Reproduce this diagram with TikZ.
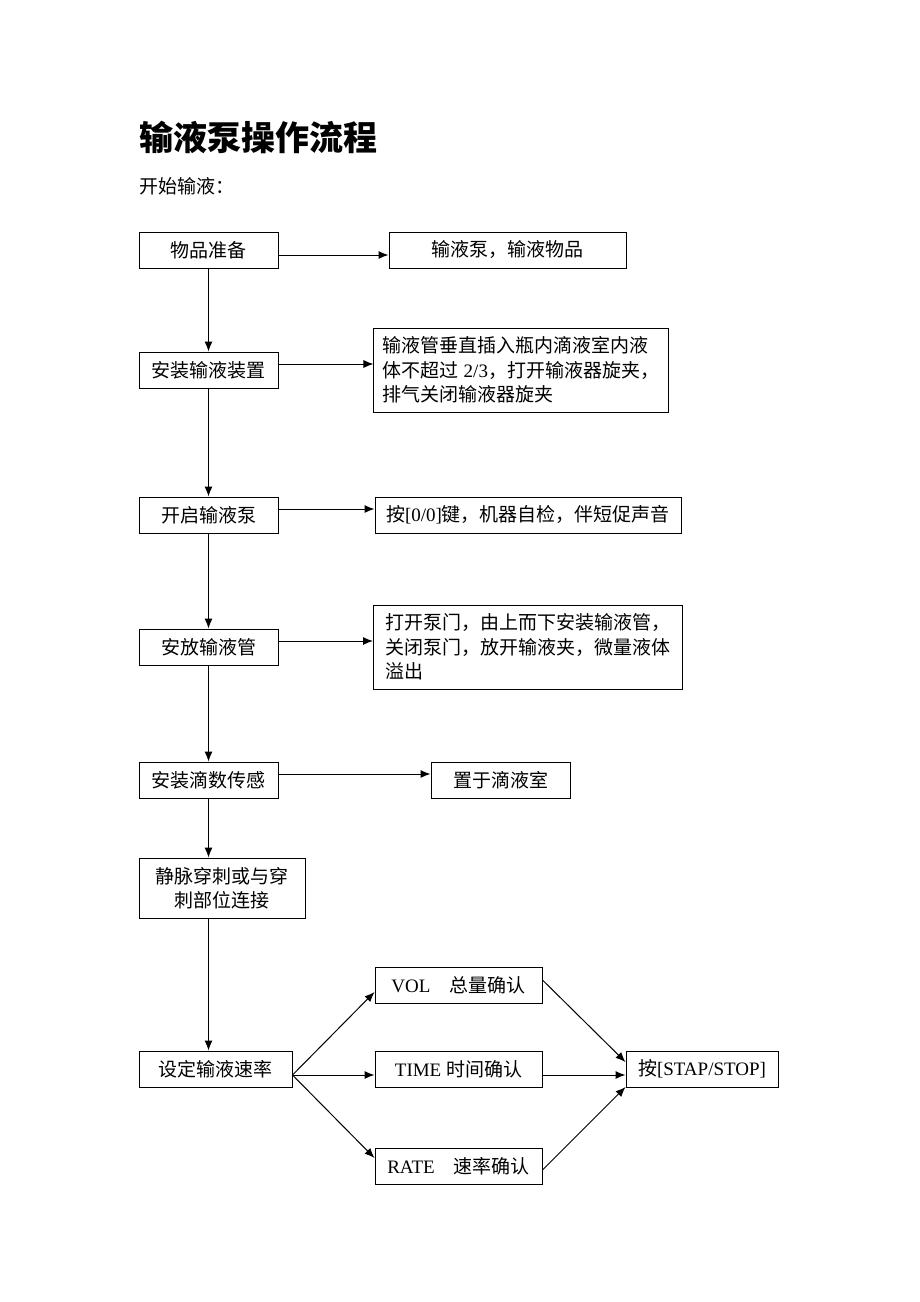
\documentclass[tikz,border=0pt]{standalone}
\usepackage{fontspec}
\setmainfont{Noto Sans CJK SC}
\newfontfamily\lat{Liberation Serif}
\usetikzlibrary{arrows.meta}

\begin{document}
\begin{tikzpicture}[x=0.5pt,y=-0.5pt,-{Latex[length=5pt,width=4pt]},line width=0.5pt,
  box/.style={draw,rectangle,minimum height=18pt,inner sep=2pt,font=\fontsize{9.5}{12.25}\selectfont},
  note/.style={box,align=left,inner xsep=6pt,inner ysep=4pt}]

  \useasboundingbox (0,0) rectangle (920,1302);

  \node[anchor=west,inner sep=0pt,font=\fontsize{17}{20}\selectfont\bfseries] (title) at (139,137) {输液泵操作流程};
  \node[anchor=west,inner sep=0pt,font=\fontsize{9.5}{12}\selectfont] (start) at (139,186) {开始输液：};

  \node[box,minimum width=69.5pt] (prep) at (208.5,250) {物品准备};
  \node[box,minimum width=118.5pt] (items) at (507.5,250) {输液泵，输液物品};
  \node[box,minimum width=69.5pt] (setup) at (208.5,370) {安装输液装置};
  \node[note,inner xsep=4.5pt,minimum width=146pt,minimum height=42pt] (setupnote) at (521,370)
    {输液管垂直插入瓶内滴液室内液\\体不超过{\lat\ 2/3}，打开输液器旋夹，\\排气关闭输液器旋夹};
  \node[box,minimum width=69.5pt] (pump) at (208.5,515) {开启输液泵};
  \node[box,minimum width=153pt] (pumpnote) at (528,515) {按{\lat [0/0]}键，机器自检，伴短促声音};
  \node[box,minimum width=69.5pt] (tube) at (208.5,647) {安放输液管};
  \node[note,minimum width=153pt,minimum height=42pt] (tubenote) at (528,647)
    {打开泵门，由上而下安装输液管，\\关闭泵门，放开输液夹，微量液体\\溢出};
  \node[box,minimum width=69.5pt] (sensor) at (208.5,780) {安装滴数传感};
  \node[box,minimum width=69.5pt] (drip) at (500.5,780) {置于滴液室};
  \node[box,align=center,minimum width=83pt,minimum height=30pt] (puncture) at (222,888) {静脉穿刺或与穿\\刺部位连接};
  \node[box,minimum width=76.5pt] (speed) at (215.5,1069) {设定输液速率};
  \node[box,minimum width=83.5pt] (vol) at (458.5,985) {{\lat VOL}\hspace{1em}总量确认};
  \node[box,minimum width=83.5pt] (time) at (458.5,1069) {{\lat TIME\ }时间确认};
  \node[box,minimum width=83.5pt] (ratebox) at (458.5,1166) {{\lat RATE}\hspace{1em}速率确认};
  \node[box,minimum width=76pt] (stop) at (702,1069) {按{\lat [STAP/STOP]}};

  % main line
  \draw (prep) -- (setup);
  \draw (setup) -- (pump);
  \draw (pump) -- (tube);
  \draw (tube) -- (sensor);
  \draw (sensor) -- (puncture.north -| sensor);
  \draw (puncture.south -| sensor) -- (speed.north -| sensor);

  % side notes
  \draw ([yshift=-2.5pt]prep.east) -- ([yshift=-2.5pt]items.west);
  \draw ([yshift=3pt]setup.east) -- ([yshift=3pt]setupnote.west);
  \draw ([yshift=3pt]pump.east) -- ([yshift=3pt]pumpnote.west);
  \draw ([yshift=3pt]tube.east) -- ([yshift=3pt]tubenote.west);
  \draw ([yshift=3pt]sensor.east) -- ([yshift=3pt]drip.west);

  % confirm and stop
  \draw ([yshift=-3pt]speed.east) -- ([yshift=-3.5pt]vol.west);
  \draw ([yshift=-3pt]speed.east) -- ([yshift=-3pt]time.west);
  \draw ([yshift=-3pt]speed.east) -- ([yshift=4pt]ratebox.west);
  \draw ([yshift=2.5pt]vol.east) -- ([yshift=3.5pt]stop.west);
  \draw ([yshift=-3pt]time.east) -- ([yshift=-3pt]stop.west);
  \draw ([yshift=-2pt]ratebox.east) -- ([yshift=-9pt]stop.west);

\end{tikzpicture}
\end{document}
